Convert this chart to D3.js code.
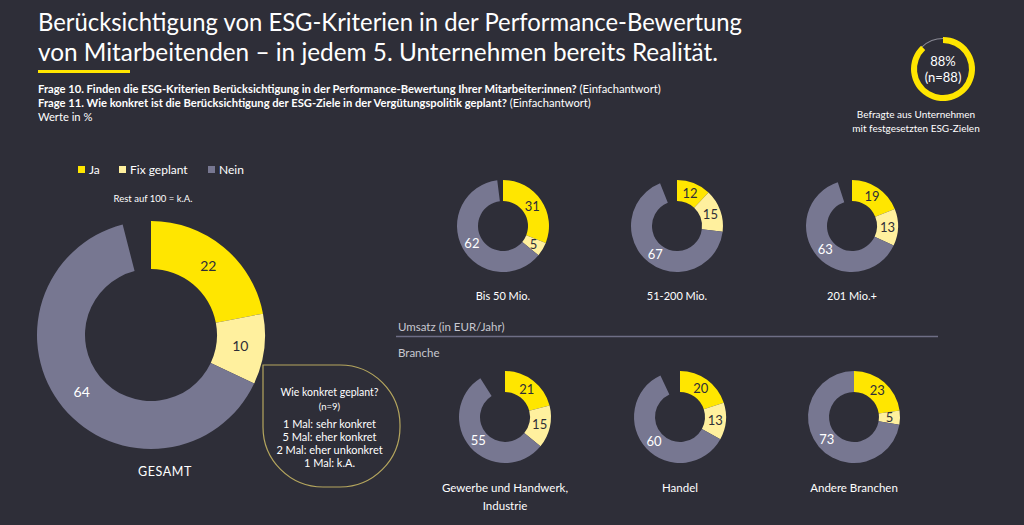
<!DOCTYPE html>
<html><head><meta charset="utf-8">
<script src="https://cdn.jsdelivr.net/npm/d3@7"></script>
<style>
html,body{margin:0;padding:0;background:#2e2e38;}
svg{display:block;}
text{font-family:Lato,"Open Sans",sans-serif;}
</style></head>
<body>
<svg id="chart" width="1024" height="525"></svg>
<script>
// ---- data ----
const seriesNames = ["Ja", "Fix geplant", "Nein"];
const totalValues = [22, 10, 64];
const umsatzCategories = ["Bis 50 Mio.", "51-200 Mio.", "201 Mio.+"];
const umsatzJa = [31, 12, 19];
const umsatzFix = [5, 15, 13];
const umsatzNein = [62, 67, 63];
const brancheCategories = ["Gewerbe und Handwerk,|Industrie", "Handel", "Andere Branchen"];
const brancheJa = [21, 20, 23];
const brancheFix = [15, 13, 5];
const brancheNein = [55, 60, 73];
const shareWithGoals = 88;
const calloutLines = ["1 Mal: sehr konkret", "5 Mal: eher konkret", "2 Mal: eher unkonkret", "1 Mal: k.A."];

const colors = {"Ja": "#ffe600", "Fix geplant": "#fff09e", "Nein": "#777791"};
const labelColors = {"Ja": "#2e2e38", "Fix geplant": "#2e2e38", "Nein": "#ffffff"};
const bg = "#2e2e38";

const svg = d3.select("#chart");
svg.append("rect").attr("width", 1024).attr("height", 525).attr("fill", bg);

// ---- title ----
const title = svg.append("g");
title.append("text").attr("x", 38).attr("y", 31).attr("fill", "#fff").attr("font-size", 25)
  .attr("textLength", 704).attr("lengthAdjust", "spacingAndGlyphs")
  .text("Berücksichtigung von ESG-Kriterien in der Performance-Bewertung");
title.append("text").attr("x", 38).attr("y", 61).attr("fill", "#fff").attr("font-size", 25)
  .attr("textLength", 680).attr("lengthAdjust", "spacingAndGlyphs")
  .text("von Mitarbeitenden – in jedem 5. Unternehmen bereits Realität.");
title.append("rect").attr("x", 38).attr("y", 70).attr("width", 92).attr("height", 3).attr("fill", "#ffe600");

const sub = [
  ["Frage 10. Finden die ESG-Kriterien Berücksichtigung in der Performance-Bewertung Ihrer Mitarbeiter:innen?", " (Einfachantwort)", 93],
  ["Frage 11. Wie konkret ist die Berücksichtigung der ESG-Ziele in der Vergütungspolitik geplant?", " (Einfachantwort)", 107]
];
sub.forEach(s => {
  const t = svg.append("text").attr("x", 38).attr("y", s[2]).attr("fill", "#fff").attr("font-size", 11.2);
  t.append("tspan").attr("font-weight", "bold").text(s[0]);
  t.append("tspan").text(s[1]);
});
svg.append("text").attr("x", 38).attr("y", 121).attr("fill", "#fff").attr("font-size", 11.2).text("Werte in %");

// ---- top-right ring ----
const ringG = svg.append("g").attr("transform", "translate(943,69)");
const ringAngle = d3.scaleLinear().domain([0, 100]).range([0, 2 * Math.PI]);
ringG.append("path").attr("d", d3.arc().innerRadius(30).outerRadius(31)({startAngle: ringAngle(shareWithGoals), endAngle: ringAngle(100)}))
  .attr("fill", "#8a8a95");
ringG.append("path").attr("d", d3.arc().innerRadius(26).outerRadius(32)({startAngle: 0, endAngle: ringAngle(shareWithGoals)}))
  .attr("fill", "#ffe600");
ringG.append("text").attr("y", -3).attr("text-anchor", "middle").attr("fill", "#fff").attr("font-size", 13).text(shareWithGoals + "%");
ringG.append("text").attr("y", 13).attr("text-anchor", "middle").attr("fill", "#fff").attr("font-size", 13).text("(n=88)");
svg.append("text").attr("x", 916).attr("y", 118).attr("text-anchor", "middle").attr("fill", "#fff").attr("font-size", 10).text("Befragte aus Unternehmen");
svg.append("text").attr("x", 916).attr("y", 132).attr("text-anchor", "middle").attr("fill", "#fff").attr("font-size", 10).text("mit festgesetzten ESG-Zielen");

// ---- legend ----
const legendX = [78, 119, 208];
const legend = svg.append("g").selectAll("g").data(seriesNames).join("g")
  .attr("transform", (d, i) => `translate(${legendX[i]},174)`);
legend.append("rect").attr("x", 0).attr("y", -8).attr("width", 7).attr("height", 7).attr("fill", d => colors[d]);
legend.append("text").attr("x", 11).attr("y", 0).attr("fill", "#fff").attr("font-size", 12).text(d => d);

svg.append("text").attr("x", 153).attr("y", 202).attr("text-anchor", "middle").attr("fill", "#fff").attr("font-size", 9.5).text("Rest auf 100 = k.A.");

// ---- donut helper ----
function donut(cx, cy, rIn, rOut, vals, fontSize) {
  const data = seriesNames.map((n, i) => ({name: n, value: vals[i]}));
  const total = Math.max(100, d3.sum(vals));
  const angle = d3.scaleLinear().domain([0, total]).range([0, 2 * Math.PI]);
  let acc = 0;
  const arcs = data.map(d => { const a = {name: d.name, value: d.value, startAngle: angle(acc), endAngle: angle(acc + d.value)}; acc += d.value; return a; });
  const arc = d3.arc().innerRadius(rIn).outerRadius(rOut);
  const g = svg.append("g").attr("transform", `translate(${cx},${cy})`);
  g.selectAll("path").data(arcs).join("path").attr("d", arc).attr("fill", d => colors[d.name]);
  g.selectAll("text").data(arcs).join("text")
    .attr("transform", d => `translate(${arc.centroid(d)})`)
    .attr("text-anchor", "middle").attr("dy", "0.35em")
    .attr("fill", d => labelColors[d.name]).attr("font-size", fontSize)
    .text(d => d.value);
  return g;
}

// big donut
donut(151, 335, 66, 114, totalValues, 14);
svg.append("text").attr("x", 165).attr("y", 476).attr("text-anchor", "middle").attr("fill", "#fff").attr("font-size", 12.5).attr("letter-spacing", 0.6).text("GESAMT");

// callout
const cb = {x: 263, y: 365, w: 137, h: 122, r: 60};
const calloutPath = `M${cb.x},${cb.y} L${cb.x + cb.w - cb.r},${cb.y} A${cb.r},${cb.r} 0 0 1 ${cb.x + cb.w},${cb.y + cb.r}
  L${cb.x + cb.w},${cb.y + cb.h - cb.r} A${cb.r},${cb.r} 0 0 1 ${cb.x + cb.w - cb.r},${cb.y + cb.h}
  L${cb.x + cb.r},${cb.y + cb.h} A${cb.r},${cb.r} 0 0 1 ${cb.x},${cb.y + cb.h - cb.r} Z`;
svg.append("path").attr("d", calloutPath).attr("fill", bg).attr("stroke", "#b5a65e").attr("stroke-width", 1.2);
const ccx = cb.x + cb.w / 2 - 2;
svg.append("text").attr("x", ccx).attr("y", 396).attr("text-anchor", "middle").attr("fill", "#fff").attr("font-size", 10.5).text("Wie konkret geplant?");
svg.append("text").attr("x", ccx).attr("y", 410).attr("text-anchor", "middle").attr("fill", "#fff").attr("font-size", 9.5).text("(n=9)");
svg.append("g").selectAll("text").data(calloutLines).join("text")
  .attr("x", ccx).attr("y", (d, i) => 428 + i * 13).attr("text-anchor", "middle").attr("fill", "#fff").attr("font-size", 11).text(d => d);

// umsatz row
const topX = [503, 677, 852];
umsatzCategories.forEach((c, i) => {
  donut(topX[i], 226, 25, 46, [umsatzJa[i], umsatzFix[i], umsatzNein[i]], 13);
  svg.append("text").attr("x", topX[i]).attr("y", 300).attr("text-anchor", "middle").attr("fill", "#fff").attr("font-size", 11).text(c);
});

// section labels
svg.append("text").attr("x", 398).attr("y", 331).attr("fill", "#c8c8d0").attr("font-size", 11.5).text("Umsatz (in EUR/Jahr)");
svg.append("line").attr("x1", 396).attr("x2", 938).attr("y1", 336.5).attr("y2", 336.5).attr("stroke", "#6e6e85").attr("stroke-width", 1.5);
svg.append("text").attr("x", 398).attr("y", 357).attr("fill", "#c8c8d0").attr("font-size", 11.5).text("Branche");

// branche row
const botX = [505, 680, 854];
brancheCategories.forEach((c, i) => {
  donut(botX[i], 417, 25, 46, [brancheJa[i], brancheFix[i], brancheNein[i]], 13);
  c.split("|").forEach((line, j) => {
    svg.append("text").attr("x", botX[i]).attr("y", 492 + j * 18).attr("text-anchor", "middle").attr("fill", "#fff").attr("font-size", 11.5).text(line);
  });
});
</script>
</body></html>
